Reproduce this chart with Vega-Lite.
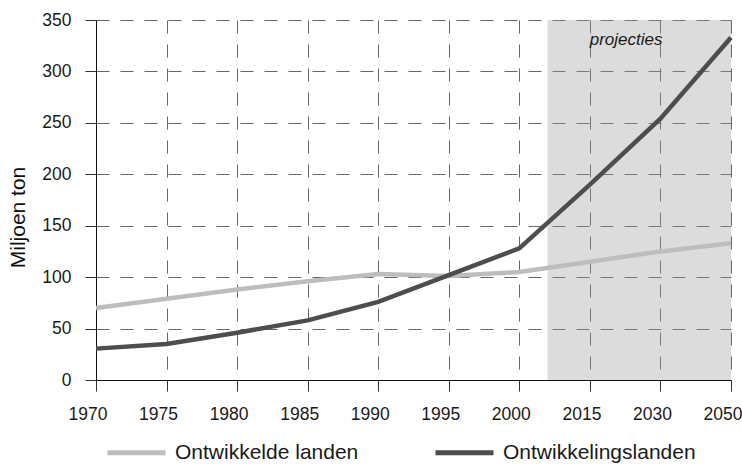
{
  "$schema": "https://vega.github.io/schema/vega-lite/v6.json",
  "width": 635,
  "height": 360,
  "autosize": "none",
  "padding": {"left": 96, "top": 20, "right": 11, "bottom": 84},
  "background": "white",
  "config": {
    "view": {"stroke": null},
    "font": "Liberation Sans, Arial, sans-serif",
    "axis": {
      "labelFont": "Liberation Sans, Arial, sans-serif",
      "titleFont": "Liberation Sans, Arial, sans-serif",
      "labelFontSize": 17.5,
      "labelColor": "#1a1a1a",
      "domainColor": "#111",
      "tickColor": "#333",
      "tickSize": 11,
      "gridColor": "#666",
      "gridDash": [13, 11],
      "gridWidth": 1
    },
    "legend": {
      "labelFont": "Liberation Sans, Arial, sans-serif"
    }
  },
  "datasets": {
    "series": [
      {"year": 1970, "value": 70, "series": "Ontwikkelde landen"},
      {"year": 1975, "value": 79, "series": "Ontwikkelde landen"},
      {"year": 1980, "value": 88, "series": "Ontwikkelde landen"},
      {"year": 1985, "value": 96, "series": "Ontwikkelde landen"},
      {"year": 1990, "value": 103, "series": "Ontwikkelde landen"},
      {"year": 1995, "value": 101, "series": "Ontwikkelde landen"},
      {"year": 2000, "value": 105, "series": "Ontwikkelde landen"},
      {"year": 2015, "value": 115, "series": "Ontwikkelde landen"},
      {"year": 2030, "value": 125, "series": "Ontwikkelde landen"},
      {"year": 2050, "value": 133, "series": "Ontwikkelde landen"},
      {"year": 1970, "value": 30.5, "series": "Ontwikkelingslanden"},
      {"year": 1975, "value": 35, "series": "Ontwikkelingslanden"},
      {"year": 1980, "value": 46, "series": "Ontwikkelingslanden"},
      {"year": 1985, "value": 58, "series": "Ontwikkelingslanden"},
      {"year": 1990, "value": 76, "series": "Ontwikkelingslanden"},
      {"year": 1995, "value": 102, "series": "Ontwikkelingslanden"},
      {"year": 2000, "value": 128, "series": "Ontwikkelingslanden"},
      {"year": 2015, "value": 190, "series": "Ontwikkelingslanden"},
      {"year": 2030, "value": 254, "series": "Ontwikkelingslanden"},
      {"year": 2050, "value": 333, "series": "Ontwikkelingslanden"}
    ],
    "shade": [
      {"start": 2006, "end": 2050, "bottom": 0, "top": 350, "label": "projecties", "labelYear": 2022.7, "labelValue": 325.5}
    ]
  },
  "layer": [
    {
      "data": {"name": "shade"},
      "mark": {"type": "rect", "fill": "#9c9c9c", "opacity": 0.353},
      "encoding": {
        "x": {
          "field": "start", "type": "quantitative",
          "scale": {"domain": [1970, 2000, 2015, 2030, 2050], "range": [0, 423.3, 493.9, 564.4, 635], "nice": false, "zero": false},
          "axis": {
            "values": [1970, 1975, 1980, 1985, 1990, 1995, 2000, 2015, 2030, 2050],
            "format": "d",
            "title": null,
            "grid": true,
            "labelPadding": 14,
            "labelOffset": -8.5,
            "labelFlush": false,
            "labelOverlap": false
          }
        },
        "x2": {"field": "end"},
        "y": {
          "field": "bottom", "type": "quantitative",
          "scale": {"domain": [0, 350], "nice": false},
          "axis": {
            "values": [0, 50, 100, 150, 200, 250, 300, 350],
            "title": "Miljoen ton",
            "titleFontSize": 21,
            "titleFontWeight": "normal",
            "titleColor": "#111",
            "titlePadding": 13,
            "titleY": 197,
            "grid": true,
            "labelPadding": 14
          }
        },
        "y2": {"field": "top"}
      }
    },
    {
      "data": {"name": "shade"},
      "mark": {"type": "text", "fontStyle": "italic", "fontSize": 17, "align": "center", "baseline": "alphabetic", "color": "#1a1a1a", "font": "Liberation Sans, Arial, sans-serif"},
      "encoding": {
        "x": {"field": "labelYear", "type": "quantitative"},
        "y": {"field": "labelValue", "type": "quantitative"},
        "text": {"field": "label"}
      }
    },
    {
      "data": {"name": "series"},
      "mark": {"type": "line", "strokeWidth": 4.5},
      "encoding": {
        "x": {"field": "year", "type": "quantitative"},
        "y": {"field": "value", "type": "quantitative"},
        "color": {
          "field": "series", "type": "nominal",
          "scale": {"domain": ["Ontwikkelde landen", "Ontwikkelingslanden"], "range": ["#bdbdbd", "#4d4d4d"]},
          "legend": {
            "title": null,
            "orient": "none",
            "legendX": 9,
            "legendY": 401,
            "direction": "horizontal",
            "columns": 2,
            "columnPadding": 66,
            "symbolType": "stroke",
            "symbolSize": 3364,
            "symbolStrokeWidth": 5,
            "labelFontSize": 21,
            "labelColor": "#1a1a1a",
            "labelOffset": 7,
            "labelLimit": 400
          }
        }
      }
    }
  ]
}
